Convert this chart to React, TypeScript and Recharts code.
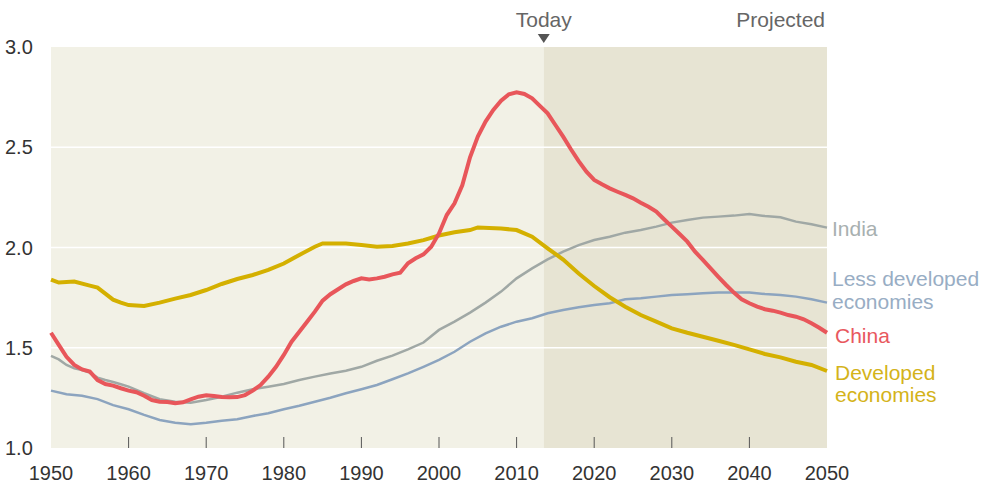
import {
  LineChart,
  Line,
  XAxis,
  YAxis,
  ReferenceArea,
  ReferenceLine,
} from "recharts";

const FONT = '"Liberation Sans", Arial, sans-serif';

const TODAY = 2013.5;
const X_TICKS = [1950, 1960, 1970, 1980, 1990, 2000, 2010, 2020, 2030, 2040, 2050];
const Y_TICKS = [1.0, 1.5, 2.0, 2.5, 3.0];
const GRID_VALUES = [1.5, 2.0, 2.5];

const developedYears = [
  1950, 1951, 1953, 1955, 1956, 1957, 1958, 1959, 1960, 1962, 1964, 1966, 1968, 1970, 1972,
  1974, 1976, 1978, 1980, 1982, 1984, 1985, 1988, 1990, 1992, 1994, 1996, 1998, 2000, 2002,
  2004, 2005, 2008, 2010, 2012, 2014, 2016, 2018, 2020, 2022, 2024, 2026, 2028, 2030, 2032,
  2034, 2036, 2038, 2040, 2042, 2044, 2046, 2048, 2050,
];
const developedValues = [
  1.84, 1.825, 1.83, 1.81, 1.8, 1.77, 1.74, 1.725, 1.713, 1.708, 1.725, 1.745, 1.763, 1.788,
  1.818, 1.843, 1.863, 1.888, 1.92, 1.963, 2.004, 2.02, 2.02, 2.012, 2.004, 2.008, 2.02, 2.037,
  2.06, 2.076, 2.087, 2.1, 2.095, 2.087, 2.054, 1.996, 1.94, 1.87, 1.808, 1.752, 1.705, 1.663,
  1.63, 1.597, 1.575, 1.555, 1.535, 1.514, 1.492, 1.469, 1.452, 1.43, 1.414, 1.384,
];

// China, one value per year 1950..2050
const chinaStart = 1950;
const chinaValues = [
  1.575, 1.514, 1.455, 1.414, 1.392, 1.381, 1.339, 1.319, 1.311, 1.298,
  1.286, 1.278, 1.261, 1.239, 1.231, 1.229, 1.223, 1.228, 1.243, 1.256,
  1.263, 1.259, 1.254, 1.253, 1.254, 1.264, 1.286, 1.314, 1.356, 1.405,
  1.464, 1.53, 1.58, 1.63, 1.68, 1.735, 1.767, 1.792, 1.816, 1.833,
  1.846, 1.841, 1.846, 1.854, 1.866, 1.874, 1.921, 1.946, 1.966, 2.004,
  2.07, 2.162, 2.22, 2.31, 2.45, 2.553, 2.628, 2.686, 2.732, 2.764,
  2.774, 2.766, 2.744, 2.706, 2.669, 2.611, 2.553, 2.49, 2.431, 2.378,
  2.337, 2.315, 2.295, 2.278, 2.262, 2.245, 2.223, 2.203, 2.179, 2.141,
  2.104, 2.067, 2.029, 1.979, 1.938, 1.896, 1.854, 1.813, 1.775, 1.742,
  1.722, 1.705, 1.692, 1.685, 1.675, 1.663, 1.655, 1.642, 1.622, 1.6,
  1.575,
];

const indiaYears = [
  1950, 1951, 1952, 1953, 1954, 1955, 1956, 1957, 1958, 1959, 1960, 1962, 1964, 1966, 1968,
  1970, 1972, 1974, 1976, 1978, 1980, 1982, 1984, 1986, 1988, 1990, 1992, 1994, 1996, 1998,
  2000, 2002, 2004, 2006, 2008, 2010, 2012, 2014, 2016, 2018, 2020, 2022, 2024, 2026, 2028,
  2030, 2032, 2034, 2036, 2038, 2040, 2042, 2044, 2046, 2048, 2050,
];
const indiaValues = [
  1.459, 1.442, 1.414, 1.397, 1.389, 1.376, 1.351, 1.339, 1.329, 1.318, 1.306, 1.273, 1.243,
  1.231, 1.226, 1.239, 1.256, 1.276, 1.293, 1.306, 1.319, 1.339, 1.356, 1.372, 1.385, 1.405,
  1.435, 1.461, 1.492, 1.526, 1.589, 1.63, 1.675, 1.725, 1.78, 1.846, 1.896, 1.941, 1.979,
  2.012, 2.037, 2.054, 2.074, 2.087, 2.104, 2.124, 2.137, 2.149, 2.154, 2.159, 2.167, 2.157,
  2.151, 2.129, 2.116, 2.099,
];

// less developed economies, every 2 years 1950..2050
const lessDevStart = 1950;
const lessDevValues = [
  1.286, 1.268, 1.261, 1.244, 1.214, 1.193, 1.165, 1.14, 1.126, 1.118,
  1.126, 1.136, 1.143, 1.16, 1.173, 1.193, 1.211, 1.231, 1.251, 1.273,
  1.293, 1.314, 1.343, 1.372, 1.405, 1.44, 1.48, 1.53, 1.572, 1.605,
  1.63, 1.647, 1.672, 1.688, 1.702, 1.713, 1.722, 1.742, 1.747, 1.755,
  1.763, 1.767, 1.772, 1.775, 1.775, 1.775, 1.768, 1.763, 1.755, 1.742,
  1.725,
];

const developedData = developedYears.map((year, i) => ({ year, value: developedValues[i] }));
const chinaData = chinaValues.map((value, i) => ({ year: chinaStart + i, value }));
const indiaData = indiaYears.map((year, i) => ({ year, value: indiaValues[i] }));
const lessDevData = lessDevValues.map((value, i) => ({ year: lessDevStart + i * 2, value }));

const XTick = (props: any) => {
  const { x, y, payload } = props;
  const edge = payload.value === 1950 || payload.value === 2050;
  return (
    <g>
      {!edge && <line x1={x} x2={x} y1={y - 11} y2={y} stroke="#555" strokeWidth={1} />}
      <text x={x} y={y + 32} textAnchor="middle" fontSize={20} fill="#333" fontFamily={FONT}>
        {payload.value}
      </text>
    </g>
  );
};

const YTick = (props: any) => {
  const { y, payload } = props;
  return (
    <text x={5} y={y + 7} textAnchor="start" fontSize={20} fill="#333" fontFamily={FONT}>
      {Number(payload.value).toFixed(1)}
    </text>
  );
};

function endLabel(lines: string[], color: string, dx: number, dys: number[], last: number) {
  return (props: any) => {
    if (props.index !== last) return null;
    return (
      <text fontSize={21} fill={color} fontFamily={FONT}>
        {lines.map((t, i) => (
          <tspan key={i} x={props.x + dx} y={props.y + dys[i]}>
            {t}
          </tspan>
        ))}
      </text>
    );
  };
}

const TodayLabel = (props: any) => {
  const { viewBox } = props;
  const cx = viewBox.x;
  const top = viewBox.y;
  return (
    <g>
      <text x={cx} y={top - 20} textAnchor="middle" fontSize={21} fill="#666" fontFamily={FONT}>
        Today
      </text>
      <path d={`M${cx - 6},${top - 13} L${cx + 6},${top - 13} L${cx},${top - 4} Z`} fill="#555" />
    </g>
  );
};

const ProjectedLabel = (props: any) => {
  const { viewBox } = props;
  return (
    <text x={viewBox.x - 2} y={viewBox.y - 20} textAnchor="end" fontSize={21} fill="#666" fontFamily={FONT}>
      Projected
    </text>
  );
};

export default function App() {
  return (
    <div style={{ position: "absolute", left: 0, top: 0, width: 985, height: 485, background: "#fff" }}>
      <LineChart width={985} height={485} margin={{ top: 47, right: 158, bottom: 0, left: 0 }}>
        <XAxis
          dataKey="year"
          type="number"
          domain={[1950, 2050]}
          ticks={X_TICKS}
          interval={0}
          height={37}
          axisLine={false}
          tickLine={false}
          tickSize={0}
          tickMargin={0}
          tick={<XTick />}
          allowDuplicatedCategory={false}
        />
        <YAxis
          type="number"
          domain={[1, 3]}
          ticks={Y_TICKS}
          interval={0}
          width={51}
          axisLine={false}
          tickLine={false}
          tick={<YTick />}
        />
        <ReferenceArea x1={1950} x2={TODAY} y1={1} y2={3} fill="#f2f1e6" fillOpacity={1} stroke="none" />
        <ReferenceArea x1={TODAY} x2={2050} y1={1} y2={3} fill="#e7e4d3" fillOpacity={1} stroke="none" />
        {GRID_VALUES.map((v) => (
          <ReferenceLine key={v} y={v} stroke="#ffffff" strokeWidth={1.5} />
        ))}
        <ReferenceLine x={TODAY} stroke="none" label={<TodayLabel />} />
        <ReferenceLine x={2050} stroke="none" label={<ProjectedLabel />} />
        <Line
          data={lessDevData}
          dataKey="value"
          stroke="#8ca4bf"
          strokeWidth={2.5}
          dot={false}
          isAnimationActive={false}
          label={endLabel(["Less developed", "economies"], "#98adc4", 5, [-17, 6], lessDevData.length - 1)}
        />
        <Line
          data={indiaData}
          dataKey="value"
          stroke="#a0a8a5"
          strokeWidth={2.5}
          dot={false}
          isAnimationActive={false}
          label={endLabel(["India"], "#a8b0b0", 5, [8], indiaData.length - 1)}
        />
        <Line
          data={developedData}
          dataKey="value"
          stroke="#d4b000"
          strokeWidth={4}
          dot={false}
          isAnimationActive={false}
          label={endLabel(["Developed", "economies"], "#d4b31a", 8, [9, 31], developedData.length - 1)}
        />
        <Line
          data={chinaData}
          dataKey="value"
          stroke="#e8565a"
          strokeWidth={4}
          dot={false}
          isAnimationActive={false}
          label={endLabel(["China"], "#e8585e", 8, [10], chinaData.length - 1)}
        />
      </LineChart>
    </div>
  );
}
